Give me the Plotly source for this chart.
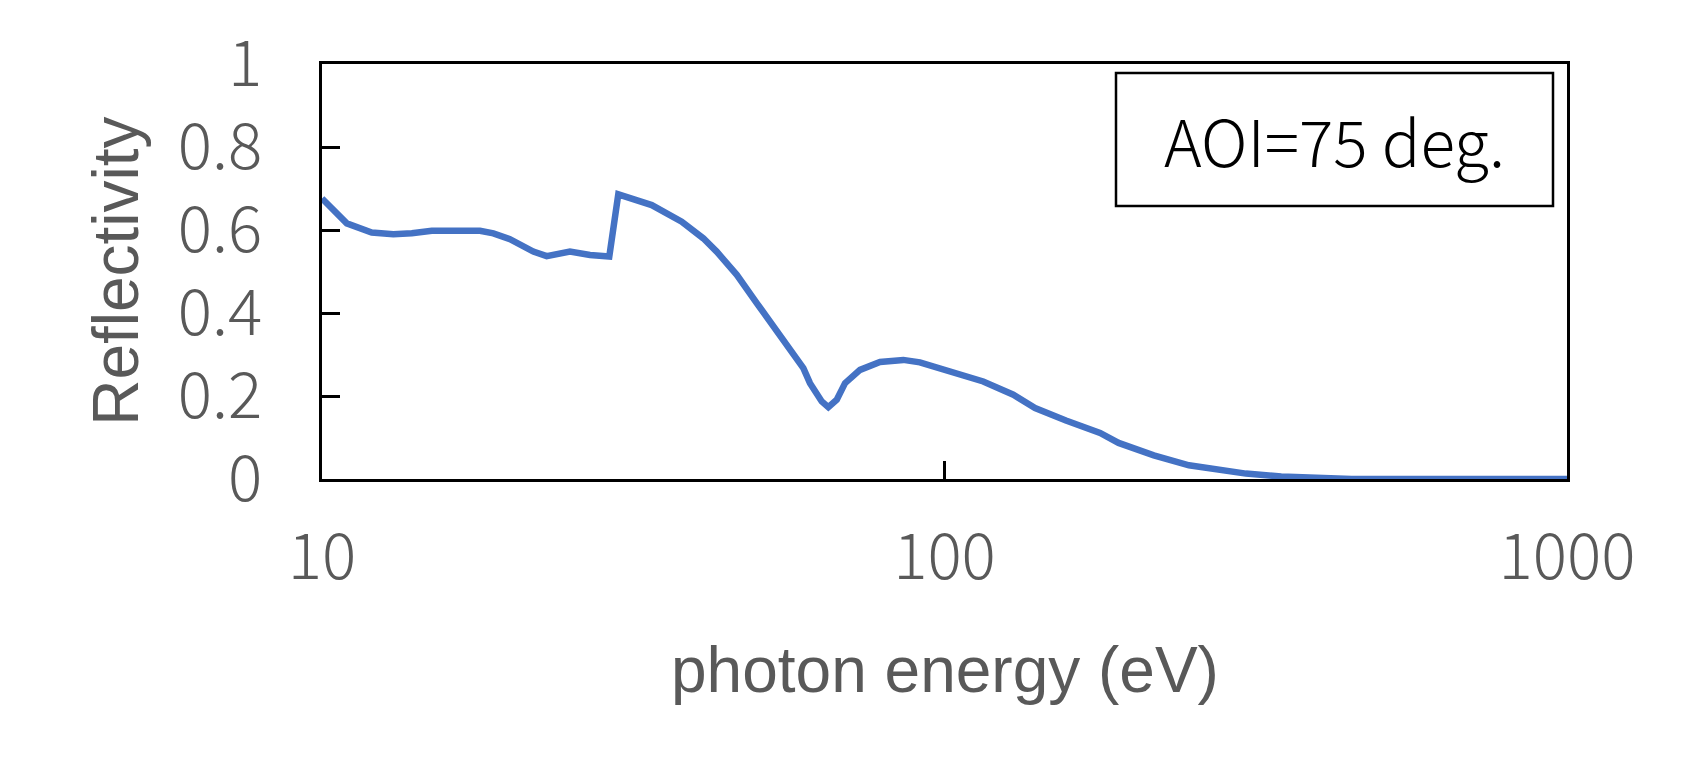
import plotly.graph_objects as go

# photon energy (eV) and reflectivity
energy = [10, 10.96, 12.02, 13.02, 13.94, 15.01, 17.94, 18.85, 20.04, 21.85, 22.96,
          25.02, 26.95, 28.94, 29.92, 33.86, 37.83, 40.97, 43.05, 46.38, 49.93,
          53.77, 56.84, 59.33, 60.8, 63.5, 65.07, 67.13, 69.22, 73.16, 78.78,
          85.87, 91.3, 99.6, 107.2, 115.4, 129, 139.8, 156.7, 170, 177.8, 190.4,
          216.9, 247, 276.7, 305, 347.5, 395.7, 450.8, 600, 800, 1000]
reflectivity = [0.676, 0.616, 0.594, 0.590, 0.592, 0.598, 0.598, 0.592, 0.578, 0.548, 0.537,
                0.548, 0.540, 0.536, 0.686, 0.660, 0.620, 0.580, 0.548, 0.492, 0.424,
                0.355, 0.307, 0.267, 0.231, 0.187, 0.173, 0.191, 0.231, 0.263, 0.282,
                0.287, 0.281, 0.265, 0.251, 0.235, 0.203, 0.171, 0.141, 0.123, 0.111, 0.087,
                0.057, 0.033, 0.021, 0.013, 0.006, 0.002, 0.0, 0.0, 0.0, 0.0]

x_tickvals = [10, 100, 1000]
x_ticktext = ["10", "100", "1000"]
y_tickvals = [0, 0.2, 0.4, 0.6, 0.8, 1]
y_ticktext = ["0", "0.2", "0.4", "0.6", "0.8", "1"]

x_title = "photon energy (eV)"
y_title = "Reflectivity"
label_text = "AOI=75 deg."

GRAY = "#595959"
TICKFONT = dict(family="Noto Sans CJK JP", size=64, color=GRAY, weight=300)
TITLEFONT = dict(family="Liberation Sans, Arial", size=64, color=GRAY)

fig = go.Figure()
fig.add_trace(go.Scatter(
    x=energy, y=reflectivity, mode="lines",
    line=dict(color="#4472C4", width=6.5),
    cliponaxis=False, showlegend=False, hoverinfo="skip",
))

fig.update_layout(
    width=1689, height=779,
    margin=dict(l=322, r=122, t=64, b=300, pad=0),
    paper_bgcolor="white", plot_bgcolor="white",
    showlegend=False,
    xaxis=dict(
        type="log", range=[1, 3],
        showline=True, mirror=True, linecolor="black", linewidth=3,
        ticks="inside", ticklen=18, tickwidth=3, tickcolor="black",
        tickvals=x_tickvals, ticktext=x_ticktext,
        tickfont=TICKFONT, ticklabelstandoff=20,
        showgrid=False, zeroline=False, layer="below traces",
    ),
    yaxis=dict(
        range=[0, 1],
        showline=True, mirror=True, linecolor="black", linewidth=3,
        ticks="inside", ticklen=18, tickwidth=3, tickcolor="black",
        tickvals=y_tickvals, ticktext=y_ticktext,
        tickfont=TICKFONT, ticklabelstandoff=44,
        showgrid=False, zeroline=False, layer="below traces",
    ),
)

# Axis titles
fig.add_annotation(text=x_title, xref="paper", yref="paper", x=0.5, y=-0.46,
                   xanchor="center", yanchor="middle", showarrow=False, font=TITLEFONT)
fig.add_annotation(text=y_title, xref="paper", yref="paper", x=-0.166, y=0.5,
                   xanchor="center", yanchor="middle", textangle=-90,
                   showarrow=False, font=TITLEFONT)

# Label box
W, H = 1245.0, 415.3
bx0, bx1, by0, by1 = 1116, 1553, 73, 206
fig.add_shape(type="rect", xref="paper", yref="paper",
              x0=(bx0 - 322) / W, x1=(bx1 - 322) / W,
              y0=(479.3 - by1) / H, y1=(479.3 - by0) / H,
              line=dict(color="black", width=2.5), fillcolor="white", layer="above")
fig.add_annotation(text=label_text, xref="paper", yref="paper",
                   x=((bx0 + bx1) / 2 - 322) / W, y=(479.3 - (by0 + by1) / 2) / H,
                   xanchor="center", yanchor="middle", showarrow=False,
                   font=dict(family="Noto Sans CJK JP", size=64, color="black", weight=300))

fig.write_html("out.html")
